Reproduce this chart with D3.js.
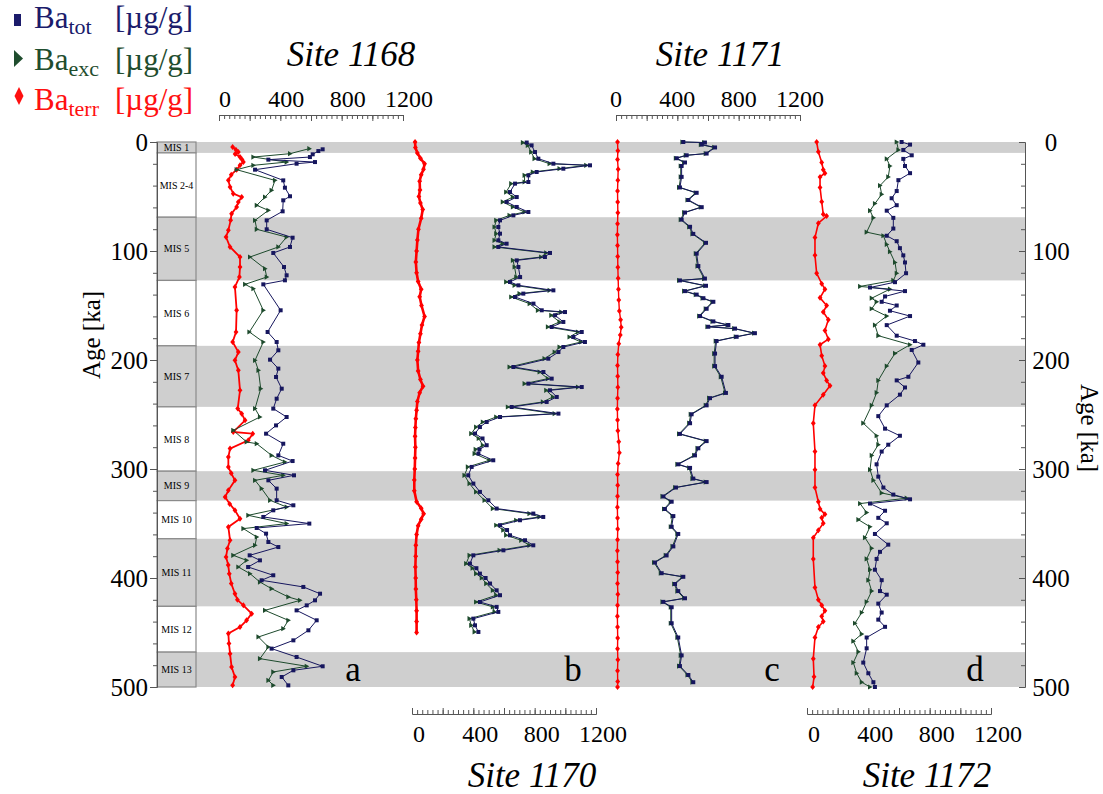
<!DOCTYPE html>
<html lang="en">
<head>
<meta charset="UTF-8">
<title>Ba records, Sites 1168-1172</title>
<script src="https://d3js.org/d3.v7.min.js"></script>
<style>
  body { margin: 0; background: #fff; }
  text { font-family: 'Liberation Serif', 'Times New Roman', serif; }
</style>
</head>
<body>
<svg id="chart" width="1103" height="794" font-family="'Liberation Serif', serif"></svg>
<script>
// ---- data (age in ka, value in µg/g) ----
const misLabels = ["MIS 1", "MIS 2-4", "MIS 5", "MIS 6", "MIS 7", "MIS 8", "MIS 9", "MIS 10", "MIS 11", "MIS 12", "MIS 13"];
const misTops = [0, 10, 69, 127, 187, 243, 302, 329, 364, 426, 468];
const ageTicks = [0, 100, 200, 300, 400, 500];
const valueTicks = [0, 400, 800, 1200];

const tot1168 = [[6.7,676],[8.3,648],[11.3,611],[13.8,593],[16.2,322],[18.4,626],[19.9,506],[25.4,235],[35.2,419],[41.9,430],[49.8,463],[53.5,419],[63.6,415],[71.9,311],[80.1,311],[87.8,480],[96.3,463],[101.8,354],[114.7,424],[122.3,441],[126.9,430],[130.6,289],[154.4,402],[174.3,317],[183.5,376],[191.1,387],[199.7,333],[207.9,387],[215.6,372],[226.3,409],[235.5,376],[244.6,354],[252.3,441],[260,372],[267.6,307],[276.8,419],[287.5,387],[292.7,480],[301.2,300],[305.8,489],[310.4,322],[318,376],[328.7,376],[333.3,485],[337.9,354],[344,289],[350.1,589],[354.1,246],[359.3,307],[367,322],[371.6,387],[379.2,200],[383.8,267],[389.9,190],[397.5,354],[402.1,278],[408.2,550],[414.4,659],[420.5,626],[425.1,572],[429.7,506],[438.8,637],[448,583],[457.2,485],[464.8,343],[472.5,506],[481,676],[484.7,485],[490.8,409],[498.5,452]];
const exc1168 = [[6.1,589],[10.7,463],[13.8,224],[18.4,441],[21.4,224],[25.4,115],[35.2,365],[44.3,343],[50.5,300],[58.1,246],[62.7,322],[71.9,235],[80.1,246],[87.2,441],[96.3,387],[105.5,202],[116.2,300],[123.9,311],[130.6,170],[134.6,224],[154.4,289],[174.3,198],[183.5,289],[200.3,235],[209.5,257],[226.3,272],[244.6,235],[252.3,267],[264.5,93],[275.2,180],[276.8,246],[287.5,343],[293.6,430],[301.2,224],[305.8,419],[310.4,235],[318,278],[328.7,333],[334.9,441],[342.5,191],[350.1,441],[354.7,159],[362.4,246],[370,235],[379.2,93],[383.8,180],[389.9,126],[396,202],[403.7,267],[409.8,343],[417.4,452],[420.5,528],[429.7,300],[438.8,452],[446.5,419],[454.1,257],[463.3,322],[474,267],[481,572],[486.2,354],[493.9,322],[498.5,354]];
const terr1168 = [[4.6,89],[7,110],[9.2,126],[11,105],[13.8,137],[16,150],[18.4,159],[21.4,137],[25.4,115],[30,80],[35.2,61],[41.3,72],[47.4,93],[50.5,148],[55,126],[59.6,115],[65.8,82],[71.9,76],[81,61],[87.2,46],[96.3,72],[105.5,137],[114.7,137],[123.9,133],[133,104],[154.4,115],[174.3,111],[183.5,89],[192.7,126],[200.3,104],[209.5,126],[227.8,137],[244.6,122],[249.2,148],[255.3,170],[266,93],[267.6,220],[273.7,191],[281.3,72],[289,61],[298.2,61],[304,80],[310.4,104],[319.6,61],[325.7,40],[332,70],[337.9,104],[345.6,137],[353.2,61],[365.4,72],[373,55],[380.7,46],[388,60],[396,67],[405,80],[414.4,104],[420,120],[425.1,159],[432.7,213],[438.8,180],[445,137],[451,61],[460,65],[469.4,72],[481.6,82],[490.8,104],[498.5,89]];

const tot1170 = [[0.5,748],[3.1,780],[9.2,802],[15.3,824],[19.9,922],[21.4,1161],[24.5,987],[27.5,813],[30.6,759],[36.7,759],[38.2,672],[45.9,639],[50.5,683],[55,617],[59.6,683],[64.2,759],[67.3,661],[71.9,574],[78,563],[84.1,574],[90.2,563],[93.3,617],[96.3,563],[101.8,900],[105.5,867],[108.6,683],[114.7,694],[123.9,705],[128.4,639],[131.5,694],[136.1,922],[139.1,726],[142.2,672],[148.3,792],[154.4,846],[156,998],[159,933],[165.1,987],[169.7,911],[174.3,1107],[178.9,1052],[183.5,1128],[188.1,987],[192.7,955],[198.8,889],[206.4,661],[211,857],[217.1,911],[221.7,759],[224.8,1107],[227.8,900],[233.9,944],[238.5,878],[243.1,650],[249.2,955],[252.3,574],[256.9,487],[261.5,443],[267.5,411],[272,460],[278.2,487],[282,440],[285.9,433],[292,530],[298.1,389],[305.8,367],[313.4,400],[321,443],[328.7,498],[336.3,552],[340.9,791],[344,856],[347,704],[351.6,574],[356,620],[360.8,639],[365.4,737],[370,791],[374.6,596],[379.2,400],[386.8,378],[391,420],[396,443],[400,480],[405.1,509],[411.3,552],[415.8,574],[422,443],[426.5,552],[431.1,563],[437.3,400],[443.4,411],[449.5,433]];
// Ba_exc at Site 1170 is sampled at the same depths as Ba_tot
const exc1170Values = [723,755,777,799,897,1136,962,788,734,734,647,614,658,592,658,734,636,549,538,549,538,592,538,875,842,658,669,680,614,669,897,701,647,767,821,973,908,962,886,1082,1027,1103,962,930,864,636,832,886,734,1082,875,919,853,625,930,549,462,418,386,435,462,415,408,505,364,342,375,418,473,527,766,831,679,549,595,614,712,766,571,375,353,395,418,455,484,527,549,418,527,538,375,386,408];
const terr1170 = [[0,20],[5,22],[10,35],[15,55],[20,82],[25,75],[30,60],[36,50],[44,52],[50,45],[56,55],[62,70],[70,60],[80,42],[90,35],[100,30],[110,25],[120,30],[128,40],[135,60],[142,50],[150,62],[160,82],[168,65],[176,55],[184,45],[192,40],[200,35],[210,40],[218,55],[224,72],[230,50],[238,35],[246,30],[254,25],[262,22],[270,20],[280,22],[290,20],[300,18],[310,15],[320,15],[330,30],[336,60],[341,76],[346,60],[352,40],[360,30],[370,25],[380,24],[390,22],[400,24],[410,25],[420,28],[430,30],[440,30],[450,30]];

const tot1171 = [[0,439],[0.5,580],[2.4,559],[5,646],[10.6,591],[12.2,461],[14.9,396],[18.8,450],[22,428],[32,428],[41.7,417],[46.6,526],[53.2,472],[59.8,559],[64.7,450],[71.2,428],[77.8,483],[84.3,504],[92.5,587],[102.4,526],[113.8,537],[125.3,580],[127,417],[131.9,587],[136.8,450],[140,526],[143.3,570],[146.6,635],[153,591],[159.7,548],[164.6,635],[167.9,733],[169.5,602],[171.2,776],[175.4,906],[178.7,787],[182.6,656],[194.1,646],[205.6,646],[215.4,689],[230.2,717],[235,613],[241.6,591],[249.8,493],[258,483],[267.8,417],[274.4,591],[281,537],[287.5,515],[295.7,406],[299,483],[308.8,504],[312,591],[317,391],[325.2,309],[330,363],[336.7,319],[343.2,374],[353,363],[359.6,406],[371,374],[379.3,330],[385.8,254],[395.6,298],[398.9,439],[405.5,385],[412,406],[418.6,450],[421.9,309],[426.8,363],[441.5,363],[454.6,406],[471,428],[480.8,417],[489,472],[495.6,504]];
// Ba_exc at Site 1171 is sampled at the same depths as Ba_tot
const exc1171Values = [433,574,553,640,585,455,390,444,422,422,411,520,466,553,444,422,477,498,581,520,531,574,411,581,444,520,564,629,585,542,629,727,596,770,900,781,650,640,640,683,711,607,585,487,477,411,585,531,509,400,477,498,585,385,303,357,313,368,357,400,368,324,248,292,433,379,400,444,303,357,357,400,422,411,466,498];
const terr1171 = [[0,10],[8,12],[16,10],[25,14],[35,12],[45,10],[55,11],[65,12],[75,10],[85,9],[95,10],[105,11],[115,12],[125,14],[135,16],[145,18],[155,22],[163,30],[170,34],[177,28],[185,18],[195,12],[205,10],[215,11],[225,12],[235,10],[245,9],[255,10],[265,12],[275,18],[285,22],[295,14],[305,10],[315,11],[325,10],[335,9],[345,10],[355,11],[365,10],[375,9],[385,10],[395,11],[405,10],[415,12],[425,10],[435,9],[445,10],[455,11],[465,10],[475,12],[485,10],[495,11],[500,10]];

const tot1172 = [[0,617],[2.4,672],[7.3,628],[12.2,683],[15.5,628],[22,639],[28.6,672],[35,596],[45,585],[51.6,552],[58,585],[63,520],[69.6,563],[79.4,563],[86,520],[91,585],[97.4,606],[104,628],[110.5,639],[120.4,646],[128.6,574],[133.5,411],[136.8,639],[141.7,509],[146.6,487],[150,585],[154.8,541],[159.7,672],[168,520],[177.7,585],[182.6,704],[186,759],[190.8,683],[202.3,726],[215.4,661],[218.7,585],[225.2,639],[231.8,606],[241.6,520],[251.5,465],[263,509],[269.5,606],[277.7,530],[284,487],[295.7,454],[307,465],[317,498],[323.5,563],[327.8,672],[331.7,411],[338.3,509],[344.8,465],[349.8,520],[359.6,443],[369.4,530],[376,476],[382.5,454],[392.4,443],[402,487],[412,476],[415.3,520],[423.5,465],[431.7,487],[438.2,465],[444.8,509],[454.6,389],[464.5,389],[477.6,367],[487.4,400],[495.6,433],[500,443]];
const exc1172 = [[0,585],[7.3,596],[15.5,520],[22,541],[32,530],[40,476],[48,487],[56.5,443],[63,411],[69.6,433],[82.7,389],[86,498],[94,520],[100.7,541],[110.5,574],[120.4,585],[127,563],[132.5,346],[135,541],[143.3,422],[146.6,454],[153,422],[159.7,520],[168,443],[177.7,465],[186,672],[194,574],[205.6,520],[218.7,465],[230,454],[241.6,422],[258,367],[269.5,454],[277.7,465],[287.5,422],[300.6,411],[310.4,433],[322,487],[326.8,650],[331.7,346],[340,389],[346.5,335],[353,411],[363,378],[372.7,422],[382.5,389],[392.4,411],[402,400],[412,422],[421.8,389],[431.7,357],[441.5,313],[451.4,357],[458,302],[467.7,335],[477.6,302],[487.4,324],[495.6,357],[500,411]];
const terr1172 = [[0,63],[9,74],[18.8,96],[25.4,106],[28.6,117],[32,85],[41.7,85],[54.8,96],[66.3,106],[68,128],[74.5,74],[87.6,52],[104,52],[120.4,63],[130,96],[135,117],[143,85],[150,128],[156,106],[163,139],[173,117],[181,139],[186,85],[196,96],[205.6,117],[212,106],[218.7,128],[223.6,150],[231.8,106],[241.6,52],[258,41],[284,52],[300.6,52],[317,52],[330,74],[336.7,85],[341.6,117],[344.8,96],[349.8,106],[356.3,74],[363,41],[382.5,41],[408.7,52],[420,74],[425,96],[430,117],[435,96],[440,106],[445,74],[454.6,52],[474,41],[490.7,46],[500,37]];

const exc1170 = tot1170.map((d, i) => [d[0], exc1170Values[i]]);
const exc1171 = tot1171.map((d, i) => [d[0], exc1171Values[i]]);

// ---- layout ----
const svg = d3.select("#chart");
const y = d3.scaleLinear().domain([0, 500]).range([142, 687]);
const misLeft = 157, misRight = 196, plotRight = 1025;
const colTot = "#16165e", colExc = "#1d4a2c", colTerr = "#ff0000";

const panels = [
  { site: "Site 1168", letter: "a", x0: 219, side: "top",    titleX: 351, letterX: 353, dx: 6, tot: tot1168, exc: exc1168, terr: terr1168, terrW: 1.8 },
  { site: "Site 1170", letter: "b", x0: 412, side: "bottom", titleX: 532, letterX: 573, dx: 7, tot: tot1170, exc: exc1170, terr: terr1170, terrW: 2.6 },
  { site: "Site 1171", letter: "c", x0: 616, side: "top",    titleX: 720, letterX: 772, dx: 0, tot: tot1171, exc: exc1171, terr: terr1171, terrW: 1.4 },
  { site: "Site 1172", letter: "d", x0: 807, side: "bottom", titleX: 927, letterX: 975, dx: 7, tot: tot1172, exc: exc1172, terr: terr1172, terrW: 1.6 }
];

// MIS stage blocks
const mis = misLabels.map((name, i) => ({
  name, top: misTops[i], bottom: i < misTops.length - 1 ? misTops[i + 1] : 500, shaded: i % 2 === 0
}));

svg.append("g").selectAll("rect").data(mis.filter(d => d.shaded)).join("rect")
  .attr("x", misRight).attr("width", plotRight - misRight)
  .attr("y", d => y(d.top)).attr("height", d => y(d.bottom) - y(d.top))
  .attr("fill", "#cfcfcf");

const misG = svg.append("g");
misG.selectAll("rect").data(mis).join("rect")
  .attr("x", misLeft).attr("width", misRight - misLeft)
  .attr("y", d => y(d.top)).attr("height", d => y(d.bottom) - y(d.top))
  .attr("fill", d => d.shaded ? "#cfcfcf" : "#fff")
  .attr("stroke", "#8a8a8a").attr("stroke-width", 1.2);
misG.selectAll("text").data(mis).join("text")
  .attr("x", (misLeft + misRight) / 2).attr("y", d => (y(d.top) + y(d.bottom)) / 2)
  .attr("dy", "0.35em").attr("text-anchor", "middle")
  .attr("font-size", 10).text(d => d.name);

// age axes
function styleAxis(g) {
  g.attr("font-family", "'Liberation Serif', serif");
  g.selectAll("path,line").attr("stroke", "#555");
  g.selectAll("text").attr("fill", "#000");
}
const leftMinor = svg.append("g").attr("transform", `translate(${misLeft},0)`)
  .call(d3.axisLeft(y).tickValues(d3.range(0, 501, 20)).tickSize(4).tickSizeOuter(0).tickFormat(""));
const leftMajor = svg.append("g").attr("transform", `translate(${misLeft},0)`)
  .call(d3.axisLeft(y).tickValues(ageTicks).tickSize(7).tickSizeOuter(0).tickPadding(2));
leftMajor.selectAll("text").attr("font-size", 25);
styleAxis(leftMinor); styleAxis(leftMajor);

const rightMinor = svg.append("g").attr("transform", `translate(${plotRight},0)`)
  .call(d3.axisRight(y).tickValues(d3.range(0, 501, 20)).tickSize(-4).tickSizeOuter(0).tickFormat(""));
const rightMajor = svg.append("g").attr("transform", `translate(${plotRight},0)`)
  .call(d3.axisRight(y).tickValues(ageTicks).tickSize(-6).tickSizeOuter(0));
rightMajor.selectAll("text").attr("font-size", 25).attr("x", 26).attr("text-anchor", "middle");
styleAxis(rightMinor); styleAxis(rightMajor);

svg.append("text").attr("transform", "translate(100,335) rotate(-90)")
  .attr("text-anchor", "middle").attr("font-size", 25).text("Age [ka]");
svg.append("text").attr("transform", "translate(1081,428) rotate(90)")
  .attr("text-anchor", "middle").attr("font-size", 25).text("Age [ka]");

// marker shapes
const sq = "M-2,-2H2V2H-2Z";
const tri = "M-2,-2.6L2.6,0L-2,2.6Z";
const dia = "M0,-3L2.4,0L0,3L-2.4,0Z";

function drawSeries(g, data, x, color, shape, width) {
  g.append("path").datum(data)
    .attr("d", d3.line().x(d => x(d[1])).y(d => y(d[0])))
    .attr("fill", "none").attr("stroke", color).attr("stroke-width", width);
  g.append("g").selectAll("path").data(data).join("path")
    .attr("transform", d => `translate(${x(d[1])},${y(d[0])})`)
    .attr("d", shape).attr("fill", color);
}

panels.forEach(p => {
  const x = d3.scaleLinear().domain([0, 1200]).range([p.x0, p.x0 + 184]);
  const g = svg.append("g");
  drawSeries(g, p.terr, x, colTerr, dia, p.terrW);
  drawSeries(g, p.exc, x, colExc, tri, 1);
  drawSeries(g, p.tot, x, colTot, sq, 1);

  const top = p.side === "top";
  const axisY = top ? 115 : 714;
  const mk = top ? d3.axisBottom : d3.axisTop;
  const minor = svg.append("g").attr("transform", `translate(0,${axisY})`)
    .call(mk(x).tickValues(d3.range(37).map(i => i * 1200 / 36)).tickSize(4).tickSizeOuter(0).tickFormat(""));
  const major = svg.append("g").attr("transform", `translate(0,${axisY})`)
    .call(mk(x).tickValues(d3.range(0, 1201, 200)).tickSize(6).tickSizeOuter(0).tickFormat(""));
  styleAxis(minor); styleAxis(major);

  svg.append("g").selectAll("text").data(valueTicks).join("text")
    .attr("x", d => x(d) + p.dx).attr("y", top ? 107 : 742)
    .attr("text-anchor", "middle").attr("font-size", 24).text(d => d);

  svg.append("text").attr("x", p.titleX).attr("y", top ? 66 : 787)
    .attr("text-anchor", "middle").attr("font-size", 35).attr("font-style", "italic")
    .text(p.site);
  svg.append("text").attr("x", p.letterX).attr("y", 681)
    .attr("text-anchor", "middle").attr("font-size", 35).text(p.letter);
});

// legend
const legend = [
  { sub: "tot", color: "#1b1b6b", marker: "M14,14H21V26H14Z", yb: 28 },
  { sub: "exc", color: "#1f4d2e", marker: "M14,50L23,58.5L14,67Z", yb: 70 },
  { sub: "terr", color: "#ff1010", marker: "M19,87L23.5,96L19,105L14.5,96Z", yb: 110 }
];
legend.forEach(l => {
  svg.append("path").attr("d", l.marker).attr("fill", l.color);
  const t = svg.append("text").attr("x", 34).attr("y", l.yb).attr("font-size", 31).attr("fill", l.color);
  t.append("tspan").text("Ba");
  t.append("tspan").attr("font-size", 22).attr("dy", 6).text(l.sub);
  svg.append("text").attr("x", 115).attr("y", l.yb).attr("font-size", 31).attr("fill", l.color).text("[µg/g]");
});
</script>
</body>
</html>
